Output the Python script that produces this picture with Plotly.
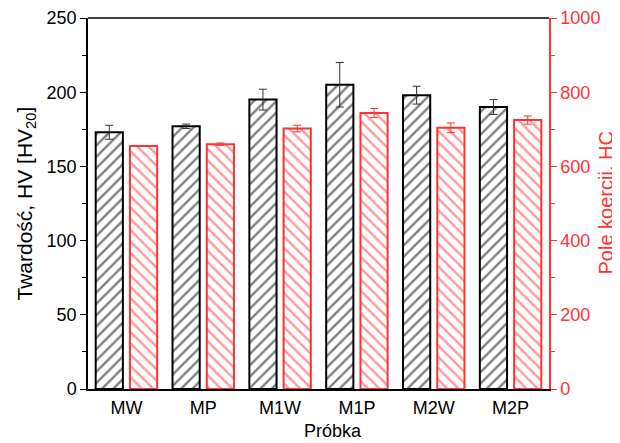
import plotly.graph_objects as go

categories = ["MW", "MP", "M1W", "M1P", "M2W", "M2P"]
hardness = [173, 177, 195, 205, 198, 190]
hardness_err = [4.7, 1.5, 7, 15, 6, 5]
coercivity = [655, 660, 702, 744, 704, 725]
coercivity_err = [0, 3, 9, 12, 13, 11]

RED = "#ff3333"
xs = list(range(len(categories)))

fig = go.Figure()
fig.add_trace(go.Bar(
    x=xs, y=hardness, width=0.354, offset=-0.40,
    marker=dict(color="white", line=dict(color="black", width=2),
                pattern=dict(shape="/", fgcolor="black", bgcolor="white", size=8, solidity=0.3)),
    error_y=dict(type="data", array=hardness_err, color="#333333", thickness=1, width=4),
    yaxis="y", showlegend=False,
))
fig.add_trace(go.Bar(
    x=xs, y=coercivity, width=0.354, offset=0.046,
    marker=dict(color="white", line=dict(color=RED, width=2),
                pattern=dict(shape="\\", fgcolor=RED, bgcolor="white", size=8, solidity=0.3)),
    error_y=dict(type="data", array=coercivity_err, color=RED, thickness=1, width=4),
    yaxis="y2", showlegend=False,
))

# page has an 8px body margin, so the figure is sized to fit the 620x443 window
font = "Liberation Sans, Arial, sans-serif"
fig.update_layout(
    width=612, height=435,
    margin=dict(l=80, r=71, t=10, b=54),
    plot_bgcolor="white", paper_bgcolor="white",
    font=dict(family=font, size=18, color="black"),
    barmode="overlay",
    xaxis=dict(
        range=[-0.5, 5.5], tickvals=xs, ticktext=categories,
        showline=True, linecolor="black", linewidth=1.5, mirror=False,
        ticks="", showgrid=False, zeroline=False, automargin=False,
        tickfont=dict(size=18), ticklabelstandoff=2,
    ),
    yaxis=dict(
        range=[0, 250], tickvals=[0, 50, 100, 150, 200, 250],
        showline=True, linecolor="black", linewidth=1.5,
        ticks="outside", ticklen=6, tickcolor="black",
        minor=dict(ticks="outside", ticklen=4, tickcolor="black", dtick=25),
        showgrid=False, zeroline=False, automargin=False,
        tickfont=dict(size=18),
    ),
    yaxis2=dict(
        range=[0, 1000], tickvals=[0, 200, 400, 600, 800, 1000],
        overlaying="y", side="right",
        showline=True, linecolor=RED, linewidth=1.5,
        ticks="outside", ticklen=6, tickcolor=RED,
        minor=dict(ticks="outside", ticklen=4, tickcolor=RED, dtick=100),
        showgrid=False, zeroline=False, automargin=False,
        tickfont=dict(size=18, color=RED),
    ),
    shapes=[dict(type="line", xref="paper", yref="paper", x0=0, x1=1, y0=1, y1=1,
                 line=dict(color="black", width=1.5))],
    annotations=[
        dict(text="Twardość, HV [HV<sub>20</sub>]", xref="paper", yref="paper",
             x=(25 - 88) / 461, y=0.5, textangle=-90, showarrow=False,
             xanchor="center", yanchor="middle", font=dict(size=21, color="black")),
        dict(text="Pole koercji. HC", xref="paper", yref="paper",
             x=(605 - 88) / 461, y=0.5, textangle=-90, showarrow=False,
             xanchor="center", yanchor="middle", font=dict(size=20, color=RED)),
        dict(text="Próbka", xref="paper", yref="paper",
             x=(333 - 88) / 461, y=-(431 - 389) / 371, showarrow=False,
             xanchor="center", yanchor="middle", font=dict(size=18, color="black")),
    ],
)
fig.write_html("out.html")
